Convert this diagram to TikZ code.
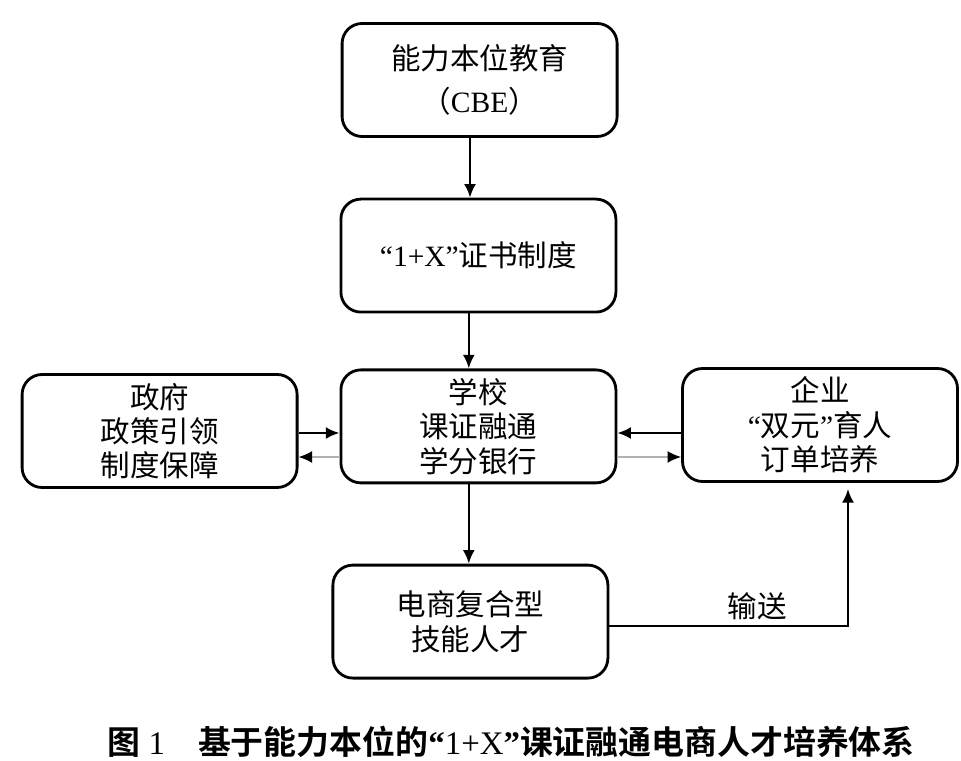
\documentclass[tikz,border=0pt]{standalone}
\usepackage{fontspec}
\setmainfont{Liberation Serif}
\newfontfamily\cjk{Noto Sans CJK SC}[BoldFont={Noto Sans CJK SC Bold}]
\usetikzlibrary{arrows.meta}
\begin{document}
\begin{tikzpicture}[
    box/.style={draw, line width=2pt, rounded corners=0.5cm, minimum width=6.875cm, minimum height=2.825cm, align=center, font=\fontsize{21pt}{24.4pt}\selectfont\cjk},
    arr/.style={line width=1.7pt, -{Latex[length=0.34cm, width=0.3cm]}},
    arrg/.style={line width=1.2pt, gray!60, -{Latex[length=0.34cm, width=0.3cm, black]}}
  ]
  \useasboundingbox (0, 0) rectangle (24.025, 19);

  \node[box] (cbe) at (11.99, 17.0) {能力本位教育\\[0.2cm]（{\rmfamily CBE}）};
  \node[box] (cert) at (11.96, 12.61) {{\rmfamily “1+X”}证书制度};
  \node[box] (school) at (11.96, 8.34) {学校\\课证融通\\学分银行};
  \node[box] (gov) at (3.99, 8.225) {政府\\政策引领\\制度保障};
  \node[box] (ent) at (20.5, 8.375) {企业\\{\rmfamily “}双元{\rmfamily ”}育人\\订单培养};
  \node[box] (talent) at (11.76, 3.46) {电商复合型\\技能人才};

  % vertical chain
  \coordinate (a1) at ([xshift=-0.24cm]cbe.south);
  \coordinate (a2) at ([xshift=-0.24cm]cert.south);
  \coordinate (a3) at ([xshift=-0.24cm]school.south);
  \draw[arr] (a1) -- (a1 |- cert.north);
  \draw[arr] (a2) -- (a2 |- school.north);
  \draw[arr] (a3) -- (a3 |- talent.north);

  % both sides of the school
  \coordinate (s1) at ([yshift=-0.165cm]school.west);
  \coordinate (s2) at ([yshift=-0.765cm]school.west);
  \coordinate (s3) at ([yshift=-0.165cm]school.east);
  \coordinate (s4) at ([yshift=-0.765cm]school.east);
  \draw[arr] (s1 -| gov.east) -- (s1);
  \draw[arrg] (s2) -- (s2 -| gov.east);
  \draw[arr] (s3 -| ent.west) -- (s3);
  \draw[arrg] (s4) -- (s4 -| ent.west);

  % output to the enterprise
  \coordinate (o1) at ([yshift=-0.11cm]talent.east);
  \coordinate (o2) at ([xshift=0.7cm, yshift=-0.15cm]ent.south);
  \draw[arr] (o1) -| node[pos=0.31, above, font=\fontsize{21pt}{24.4pt}\selectfont\cjk] {输送} (o2);

  \node[font=\fontsize{23.4pt}{28pt}\selectfont] (caption) at (12.78, 0.45)
    {{\cjk\bfseries 图} 1\hspace{1em}{\cjk\bfseries 基于能力本位的}{\bfseries “}1+X{\bfseries ”}{\cjk\bfseries 课证融通电商人才培养体系}};
\end{tikzpicture}
\end{document}
